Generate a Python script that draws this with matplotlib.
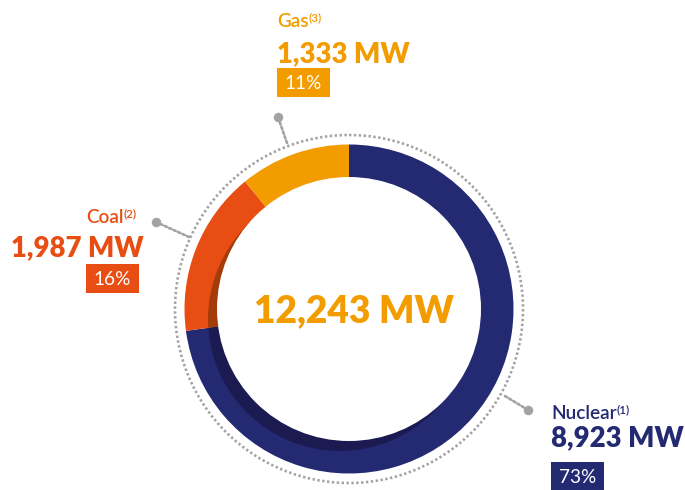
import matplotlib
matplotlib.use("Agg")
import matplotlib.pyplot as plt
from matplotlib.patches import Circle, Rectangle, Wedge

# data
sources = ["Nuclear", "Coal", "Gas"]
capacity_mw = [8923, 1987, 1333]
footnotes = ["(1)", "(2)", "(3)"]

colors = ["#232a72", "#e84e13", "#f39c00"]
shadow_colors = ["#1b1b52", "#a33c08", "#b87400"]
grey = "#a3a3a3"

# layout, in pixels (y grows downwards)
W, H = 685, 490
cx, cy = 349, 309
R_OUT, R_IN = 164.5, 132
SHADOW_SHIFT = (-9, 10)
R_DOTS = 174

# per-label layout: (x, align, name baseline, value baseline, box top, dot, anchor)
label_layout = {
    "Nuclear": (551, "left", 419, 446, 462, (528, 410), (505, 396)),
    "Coal": (144, "right", 223, 256, 264, (156, 222), (189, 237)),
    "Gas": (277, "left", 27, 62, 68, (278, 117), (287, 143)),
}

FONT = "Lato"
PT = 72 / 100  # pixels -> points at dpi 100

fig = plt.figure(figsize=(W / 100, H / 100), dpi=100)
ax = fig.add_axes([0, 0, 1, 1])
ax.set_xlim(0, W)
ax.set_ylim(H, 0)
ax.set_aspect("equal")
ax.axis("off")

total = sum(capacity_mw)

# ring: bright wedges, shadow wedges clipped to a shifted disc, white hole
start = -90.0
shadow_clip = Circle((cx + SHADOW_SHIFT[0], cy + SHADOW_SHIFT[1]), R_IN,
                     transform=ax.transData)
for value, col, scol in zip(capacity_mw, colors, shadow_colors):
    span = 360.0 * value / total
    ax.add_patch(Wedge((cx, cy), R_OUT, start, start + span, color=col,
                       lw=0, zorder=2))
    sh = Wedge((cx, cy), R_OUT, start, start + span, color=scol, lw=0,
               zorder=3)
    ax.add_patch(sh)
    sh.set_clip_path(shadow_clip)
    start += span
ax.add_patch(Circle((cx, cy), R_IN, color="white", lw=0, zorder=4))

dot_style = dict(color=grey, lw=1.9, linestyle=(0, (0.9, 0.95)),
                 dash_capstyle="round")
ax.add_patch(Circle((cx, cy), R_DOTS, fill=False, ec=grey, lw=1.9,
                    linestyle=(0, (0.9, 0.95)), zorder=1))

ax.text(cx + 5, cy + 13, f"{total:,} MW", color=colors[2], fontsize=37 * PT,
        fontweight="heavy", family=FONT, ha="center", va="baseline", zorder=5)

fig.canvas.draw()
renderer = fig.canvas.get_renderer()


def text_width(t):
    bb = t.get_window_extent(renderer=renderer)
    return bb.width


for name, value, note, col in zip(sources, capacity_mw, footnotes, colors):
    x, align, y_name, y_val, y_box, dot, anchor = label_layout[name]

    # leader
    ax.plot([anchor[0], dot[0]], [anchor[1], dot[1]], **dot_style, zorder=1)
    ax.plot(dot[0], dot[1], "o", ms=9.5 * PT, color=grey, mec="none",
            zorder=2)

    # name with footnote mark
    if align == "left":
        t = ax.text(x, y_name, name, color=col, fontsize=19 * PT,
                    fontweight="semibold", family=FONT, ha="left",
                    va="baseline")
        w = text_width(t)
        ax.text(x + w, y_name - 6, note, color=col, fontsize=11.5 * PT,
                fontweight="semibold", family=FONT, ha="left", va="baseline")
    else:
        s = ax.text(x - 7, y_name - 6, note, color=col, fontsize=11.5 * PT,
                    fontweight="semibold", family=FONT, ha="right",
                    va="baseline")
        w = text_width(s)
        ax.text(x - 7 - w, y_name, name, color=col, fontsize=19 * PT,
                fontweight="semibold", family=FONT, ha="right", va="baseline")

    # value
    ax.text(x, y_val, f"{value:,} MW", color=col, fontsize=27.5 * PT,
            fontweight="heavy", family=FONT, ha=align, va="baseline")

    # percentage box
    bw, bh = 53, 29
    bx = x if align == "left" else x - 5 - bw
    ax.add_patch(Rectangle((bx, y_box), bw, bh, color=col, lw=0))
    pct = round(100 * value / total)
    ax.text(bx + bw / 2, y_box + bh / 2 + 1, f"{pct}%", color="white",
            fontsize=19 * PT, family=FONT, ha="center", va="center")

fig.savefig("out.png", dpi=100)
